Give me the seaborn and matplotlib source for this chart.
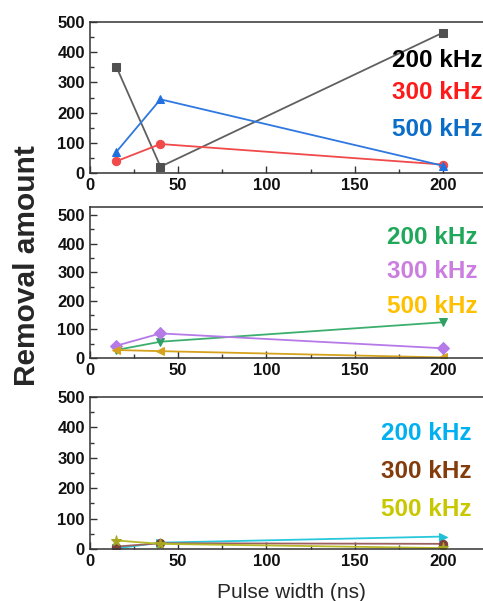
import matplotlib
matplotlib.use("Agg")
import matplotlib.pyplot as plt
import seaborn as sns
from matplotlib.ticker import MultipleLocator

# pulse widths (ns)
pulse_width = [15, 40, 200]

# panel 1
p1_labels = ["200 kHz", "300 kHz", "500 kHz"]
p1_values = [[352, 21, 465], [39, 96, 28], [70, 244, 24]]
# panel 2
p2_labels = ["200 kHz", "300 kHz", "500 kHz"]
p2_values = [[28, 57, 125], [43, 86, 34], [28, 24, 2]]
# panel 3
p3_labels = ["200 kHz", "300 kHz", "500 kHz"]
p3_values = [[2, 21, 41], [8, 19, 17], [28, 17, 3]]

sns.set_style("ticks")
plt.rcParams["font.family"] = ["Liberation Sans", "DejaVu Sans"]

panels = [
    dict(values=p1_values, labels=p1_labels,
         line_colors=["#606060", "#f04a4a", "#2f78e0"],
         marker_colors=["#505050", "#f04a4a", "#2070e0"],
         text_colors=["#000000", "#ff1a1a", "#0a6ec8"],
         markers=["s", "o", "^"],
         rect=[0.186, 0.7121, 0.841, 0.2513], ylim=(0, 500),
         tx=0.744, ty=[0.748, 0.53, 0.285]),
    dict(values=p2_values, labels=p2_labels,
         line_colors=["#3cae6e", "#b57ae8", "#d6a21e"],
         marker_colors=["#2ea064", "#b57ae8", "#d6a21e"],
         text_colors=["#1fa85a", "#cc7ee0", "#ffc000"],
         markers=["v", "D", "<"],
         rect=[0.186, 0.4043, 0.841, 0.2513], ylim=(0, 528),
         tx=0.732, ty=[0.795, 0.57, 0.344]),
    dict(values=p3_values, labels=p3_labels,
         line_colors=["#28c8dc", "#9a6060", "#b8b828"],
         marker_colors=["#20c0d8", "#804040", "#a8a820"],
         text_colors=["#00b0f0", "#843c0c", "#c8c800"],
         markers=[">", "o", "*"],
         rect=[0.186, 0.0865, 0.841, 0.2529], ylim=(0, 500),
         tx=0.717, ty=[0.763, 0.507, 0.257]),
]

fig = plt.figure(figsize=(4.83, 6.01), dpi=100)

for p in panels:
    ax = fig.add_axes(p["rect"])
    for vals, lc, mc, m in zip(p["values"], p["line_colors"], p["marker_colors"], p["markers"]):
        sns.lineplot(x=pulse_width, y=vals, ax=ax, color=lc, linewidth=1.3,
                     marker=m, markersize=6 if m != "*" else 8,
                     markerfacecolor=mc, markeredgecolor=mc)
    for lab, tc, y in zip(p["labels"], p["text_colors"], p["ty"]):
        ax.text(p["tx"], y, lab, transform=ax.transAxes, color=tc,
                fontsize=17.5, fontweight="bold", ha="left", va="center")
    ax.set_xlim(0, 230)
    ax.set_ylim(*p["ylim"])
    ax.set_xticks([0, 50, 100, 150, 200])
    ax.set_yticks([0, 100, 200, 300, 400, 500])
    ax.xaxis.set_minor_locator(MultipleLocator(25))
    ax.yaxis.set_minor_locator(MultipleLocator(50))
    ax.tick_params(which="both", direction="in", labelsize=12, colors="#333333",
                   labelcolor="#111111", width=1)
    ax.tick_params(which="major", length=5)
    ax.tick_params(which="minor", length=3)
    for lbl in ax.get_xticklabels() + ax.get_yticklabels():
        lbl.set_fontweight("bold")
    for s in ax.spines.values():
        s.set_visible(True)
        s.set_color("#333333")
        s.set_linewidth(1.1)

fig.text(0.055, 1 - 266 / 601, "Removal amount", rotation=90, ha="center",
         va="center", fontsize=21.5, fontweight="bold")
fig.text(291 / 483, 1 - 592 / 601, "Pulse width (ns)", ha="center", va="center",
         fontsize=15)

fig.savefig("out.png", dpi=100)
